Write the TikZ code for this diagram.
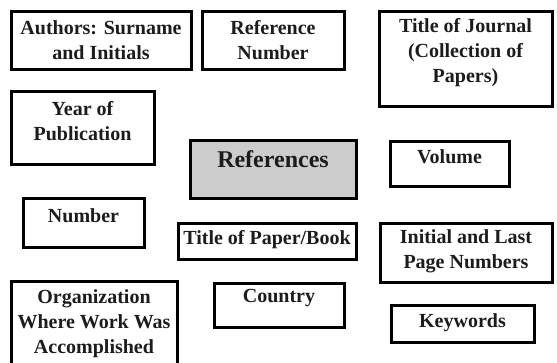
\documentclass[tikz,border=0pt]{standalone}
\usepackage{fontspec}
\setmainfont{Liberation Serif}
\definecolor{refGray}{RGB}{204,204,204}
\definecolor{refInk}{RGB}{28,28,28}

\tikzset{
    refbox/.style={draw=black, line width=3pt},
    reftext/.style={font=\bfseries\fontsize{20}{25}\selectfont, text=refInk, align=center, inner sep=0pt},
}

\begin{document}
\begin{tikzpicture}[x=1pt, y=-1pt]
\useasboundingbox (0,0) rectangle (557,362);

% frames
\draw[refbox] (11,11) rectangle (191,69);
\draw[refbox] (202,11) rectangle (344,69);
\draw[refbox] (379,11) rectangle (552,106);
\draw[refbox] (11,91) rectangle (154,164);
\draw[refbox, fill=refGray] (190,140) rectangle (356,198);
\draw[refbox] (390,141) rectangle (509,186);
\draw[refbox] (23,198) rectangle (144,247);
\draw[refbox] (178,223) rectangle (356,259);
\draw[refbox] (380,223) rectangle (552,282);
\draw[refbox] (11,281) rectangle (177,375);
\draw[refbox] (214,283) rectangle (344,327);
\draw[refbox] (391,305) rectangle (534,342);

% labels
\node[reftext] (authors) at (101,40) {Authors: Surname\\and Initials};
\node[reftext] (refnum) at (273,40) {Reference\\Number};
\node[reftext] (journal) at (465.5,53) {Title of Journal\\(Collection of\\Papers)};
\node[reftext] (year) at (82.5,121) {Year of\\Publication};
\node[reftext, font=\bfseries\fontsize{24}{28}\selectfont] (refs) at (273,159) {References};
\node[reftext] (volume) at (449.5,157) {Volume};
\node[reftext] (number) at (83.5,216) {Number};
\node[reftext] (paper) at (267,240) {Title of Paper/Book};
\node[reftext] (pages) at (466,251) {Initial and Last\\Page Numbers};
\node[reftext] (org) at (94,324) {Organization\\Where Work Was\\Accomplished};
\node[reftext] (country) at (279,298) {Country};
\node[reftext] (keywords) at (462.5,323) {Keywords};
\end{tikzpicture}
\end{document}
